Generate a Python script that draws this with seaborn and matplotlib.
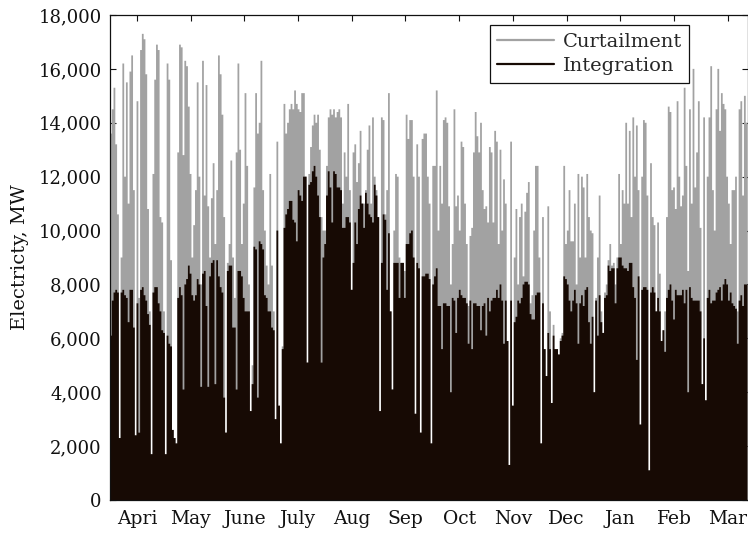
import numpy as np
import pandas as pd
import matplotlib
matplotlib.use("Agg")
import matplotlib.pyplot as plt
from matplotlib.lines import Line2D
from matplotlib.ticker import FuncFormatter
import seaborn as sns

# Month labels (fiscal year April -> March)
months = ["Apri", "May", "June", "July", "Aug", "Sep",
          "Oct", "Nov", "Dec", "Jan", "Feb", "Mar"]

# Daily wind output available (integration + curtailment), thousand MW
total_wind = [
    13.6, 14.5, 15.3, 13.2, 10.6, 2.3, 9.0, 16.2, 12.0, 15.5,
    11.0, 15.9, 16.5, 11.5, 2.4, 14.8, 7.5, 16.7, 17.3, 17.1,
    15.8, 10.8, 7.0, 1.7, 12.1, 15.6, 16.9, 16.7, 10.5, 10.3,
    7.0, 1.7, 16.2, 15.6, 8.9, 2.6, 2.3, 2.1, 12.9, 16.9,
    16.8, 12.8, 16.3, 16.1, 14.6, 12.1, 9.0, 10.2, 11.5, 15.5,
    12.0, 8.0, 16.3, 11.3, 15.4, 10.9, 9.0, 11.2, 12.5, 9.5,
    11.5, 16.5, 15.8, 14.3, 10.5, 2.5, 8.8, 9.5, 12.6, 9.0,
    7.5, 12.9, 16.2, 13.0, 9.5, 11.0, 15.1, 12.4, 8.0, 3.3,
    5.0, 11.6, 15.1, 13.6, 14.0, 16.3, 11.5, 10.0, 8.7, 8.0,
    12.1, 8.7, 7.0, 3.0, 13.3, 3.5, 2.1, 5.7, 14.7, 13.6,
    14.0, 14.5, 14.7, 14.5, 15.2, 14.7, 14.5, 14.4, 15.1, 15.1,
    12.0, 5.1, 12.1, 13.1, 13.9, 14.3, 14.0, 14.3, 13.0, 10.5,
    10.0, 10.0, 12.4, 14.2, 14.5, 14.3, 14.5, 14.2, 14.4, 14.5,
    14.2, 11.0, 12.9, 12.0, 14.7, 11.5, 7.8, 12.9, 13.2, 11.8,
    12.5, 13.7, 11.0, 11.0, 11.5, 13.0, 13.9, 11.0, 14.2, 12.0,
    11.5, 10.5, 3.3, 14.2, 14.1, 10.6, 11.5, 15.1, 7.0, 4.1,
    10.0, 12.1, 12.0, 9.0, 8.8, 8.8, 8.5, 14.3, 13.4, 14.1,
    14.1, 12.0, 3.2, 13.2, 12.0, 2.5, 13.4, 13.6, 13.6, 12.0,
    11.0, 2.1, 12.4, 12.4, 15.2, 10.0, 12.4, 11.0, 14.1, 14.2,
    14.0, 10.9, 8.0, 9.5, 14.5, 10.9, 11.3, 10.0, 13.3, 13.1,
    11.0, 9.5, 7.2, 9.8, 10.1, 12.9, 14.4, 13.5, 12.9, 14.0,
    11.5, 10.8, 10.9, 10.3, 13.1, 12.9, 10.3, 13.7, 13.3, 9.5,
    13.0, 10.0, 11.9, 11.0, 5.9, 1.3, 13.3, 3.5, 9.0, 10.8,
    8.0, 10.5, 11.0, 8.3, 10.7, 11.4, 11.8, 7.3, 7.6, 10.0,
    12.4, 12.4, 9.0, 2.1, 10.5, 5.6, 4.6, 10.9, 7.0, 3.6,
    6.5, 5.6, 5.6, 5.4, 6.0, 6.2, 12.4, 9.5, 10.0, 11.5,
    9.6, 9.6, 11.0, 8.0, 12.1, 9.0, 12.0, 11.6, 9.0, 12.1,
    10.5, 10.0, 9.9, 4.0, 7.5, 9.0, 11.3, 7.0, 6.2, 7.7,
    8.0, 8.9, 9.5, 8.7, 8.8, 8.0, 9.0, 12.1, 9.5, 11.5,
    11.0, 14.0, 11.0, 13.7, 10.5, 14.2, 12.0, 13.9, 11.5, 2.8,
    12.0, 14.1, 14.0, 11.3, 1.1, 12.5, 10.5, 10.2, 7.0, 10.3,
    8.4, 5.9, 6.3, 7.0, 10.5, 14.6, 14.4, 11.5, 11.6, 10.8,
    14.8, 12.0, 10.9, 11.3, 15.3, 12.4, 8.5, 14.5, 11.0, 16.0,
    11.6, 12.9, 14.8, 10.1, 4.3, 14.2, 3.7, 12.0, 14.2, 16.1,
    11.5, 10.0, 14.5, 16.0, 13.7, 15.1, 14.7, 14.5, 12.0, 11.0,
    9.5, 11.5, 11.5, 12.0, 7.0, 14.5, 14.8, 11.3, 15.0, 14.0,
]

# Daily wind output integrated into the grid, thousand MW
integration = [
    6.1, 7.4, 7.7, 7.8, 7.7, 2.3, 7.7, 7.8, 7.6, 7.5,
    6.6, 7.8, 7.8, 6.4, 2.4, 7.3, 2.5, 7.8, 7.9, 7.6,
    7.4, 6.9, 6.5, 1.7, 7.7, 7.9, 7.9, 7.3, 7.0, 6.3,
    6.2, 1.7, 6.1, 5.8, 5.7, 2.6, 2.3, 2.1, 7.5, 7.9,
    7.6, 4.1, 8.0, 8.2, 8.7, 8.4, 7.6, 7.4, 7.6, 8.2,
    8.0, 4.2, 8.4, 8.5, 7.2, 4.2, 8.3, 8.8, 8.9, 4.3,
    8.9, 8.3, 7.9, 7.7, 3.8, 2.5, 8.5, 8.7, 8.7, 6.4,
    6.4, 4.1, 8.5, 8.5, 8.3, 7.5, 7.0, 7.0, 7.0, 3.3,
    4.3, 9.4, 9.3, 3.8, 9.6, 9.5, 9.3, 7.6, 7.5, 7.0,
    7.0, 6.4, 6.3, 3.0, 10.0, 3.5, 2.1, 5.6, 10.1, 10.6,
    10.8, 11.1, 11.1, 10.4, 10.3, 9.6, 11.5, 11.3, 11.1, 12.0,
    12.0, 5.1, 11.7, 11.8, 12.2, 12.4, 12.0, 11.3, 10.5, 5.1,
    9.0, 9.5, 11.3, 12.2, 11.6, 10.3, 12.2, 12.1, 11.6, 11.6,
    11.5, 10.1, 10.1, 10.5, 10.5, 10.3, 7.8, 8.8, 10.3, 9.5,
    10.8, 11.3, 11.0, 10.1, 11.4, 11.0, 10.6, 10.5, 10.3, 11.7,
    11.3, 10.5, 3.3, 8.8, 10.6, 10.4, 7.8, 9.9, 7.0, 4.1,
    8.8, 8.8, 8.8, 7.5, 8.8, 8.8, 7.5, 9.5, 9.5, 9.9,
    10.0, 9.0, 3.2, 8.8, 8.6, 2.5, 8.3, 8.3, 8.4, 8.4,
    8.2, 2.1, 8.0, 8.3, 8.6, 7.2, 7.2, 5.6, 7.3, 7.3,
    7.2, 7.2, 4.0, 7.5, 7.4, 6.2, 7.5, 7.8, 7.6, 7.5,
    7.5, 7.3, 5.8, 7.4, 5.6, 7.3, 7.3, 7.2, 7.2, 6.3,
    7.2, 7.3, 6.1, 7.5, 7.0, 7.4, 7.5, 7.5, 7.8, 7.5,
    8.0, 7.4, 5.8, 7.4, 5.9, 1.3, 7.4, 3.5, 6.6, 6.8,
    7.4, 7.3, 7.5, 8.0, 8.1, 8.1, 8.0, 6.9, 6.7, 6.7,
    7.6, 7.7, 7.7, 2.1, 7.3, 5.6, 4.6, 6.2, 5.6, 3.6,
    6.1, 5.6, 5.6, 5.4, 5.9, 6.1, 8.3, 8.2, 8.0, 7.4,
    7.0, 7.4, 7.8, 7.3, 5.8, 7.3, 7.6, 7.2, 7.8, 7.9,
    6.6, 5.8, 6.8, 4.0, 7.4, 6.1, 7.6, 6.6, 6.2, 7.5,
    7.6, 8.7, 8.5, 8.6, 8.6, 7.3, 8.6, 9.0, 9.0, 8.7,
    8.6, 8.6, 8.5, 8.8, 8.8, 7.9, 7.5, 5.2, 8.3, 2.8,
    7.8, 7.9, 7.9, 7.8, 1.1, 7.7, 7.9, 7.7, 7.0, 7.5,
    7.0, 5.9, 6.3, 5.5, 7.5, 7.8, 8.0, 7.4, 6.7, 7.8,
    7.6, 7.6, 7.6, 7.8, 7.3, 7.8, 4.0, 7.9, 7.5, 7.4,
    7.4, 7.4, 7.4, 7.0, 4.3, 6.0, 3.7, 7.5, 7.8, 7.3,
    7.4, 7.4, 7.7, 7.8, 7.9, 7.4, 8.0, 8.2, 8.0, 7.4,
    7.7, 7.3, 7.2, 7.1, 5.8, 7.4, 7.6, 7.2, 8.0, 8.0,
]

GRAY = "#a2a2a2"
DARK = "#170a04"
INK = "#111111"

df = pd.DataFrame({
    "day": np.arange(len(total_wind)),
    "total": np.array(total_wind) * 1000.0,
    "integration": np.array(integration) * 1000.0,
})

sns.set_style("ticks")
plt.rcParams["font.family"] = ["DejaVu Serif"]
plt.rcParams["font.size"] = 13

fig = plt.figure(figsize=(7.48, 5.36), dpi=100)
ax = fig.add_axes([110 / 748, 36 / 536, 637.5 / 748, 485 / 536])

# Curtailed energy shows as the grey part above the integrated (dark) part
sns.histplot(data=df, x="day", weights="total", discrete=True,
             element="step", fill=True, color=GRAY, alpha=1,
             linewidth=0, edgecolor="none", ax=ax)
sns.histplot(data=df, x="day", weights="integration", discrete=True,
             element="step", fill=True, color=DARK, alpha=1,
             linewidth=0, edgecolor="none", ax=ax)

n_days = len(total_wind)
ax.set_xlim(-0.5, n_days - 0.5)
ax.set_ylim(0, 18000)

tick_pos = [14.7 + k * 30.33 for k in range(12)]
ax.set_xticks(tick_pos)
ax.set_xticklabels(months)
ax.set_yticks(np.arange(0, 18001, 2000))
ax.yaxis.set_major_formatter(FuncFormatter(lambda v, p: f"{int(v):,}"))

ax.tick_params(axis="both", which="major", direction="in", length=4,
               width=0.8, top=True, right=True,
               colors=INK, labelcolor=INK)
ax.tick_params(axis="x", pad=7, labelsize=13.5)
ax.tick_params(axis="y", pad=6, labelsize=13)

for s in ax.spines.values():
    s.set_visible(True)
    s.set_color(INK)
    s.set_linewidth(0.9)

ax.set_xlabel("")
ax.set_ylabel("Electricty, MW", fontsize=14, labelpad=7, color=INK)

handles = [Line2D([], [], color=GRAY, lw=1.6),
           Line2D([], [], color=DARK, lw=1.6)]
leg = ax.legend(handles, ["Curtailment", "Integration"],
                loc="upper right", bbox_to_anchor=(0.909, 0.979),
                frameon=True, fancybox=False, framealpha=1,
                edgecolor=INK, fontsize=14, handlelength=2.9,
                handletextpad=0.45, borderpad=0.4, labelspacing=0.3,
                borderaxespad=0)
leg.get_frame().set_linewidth(0.9)

fig.savefig("out.png", dpi=100, facecolor="white")
